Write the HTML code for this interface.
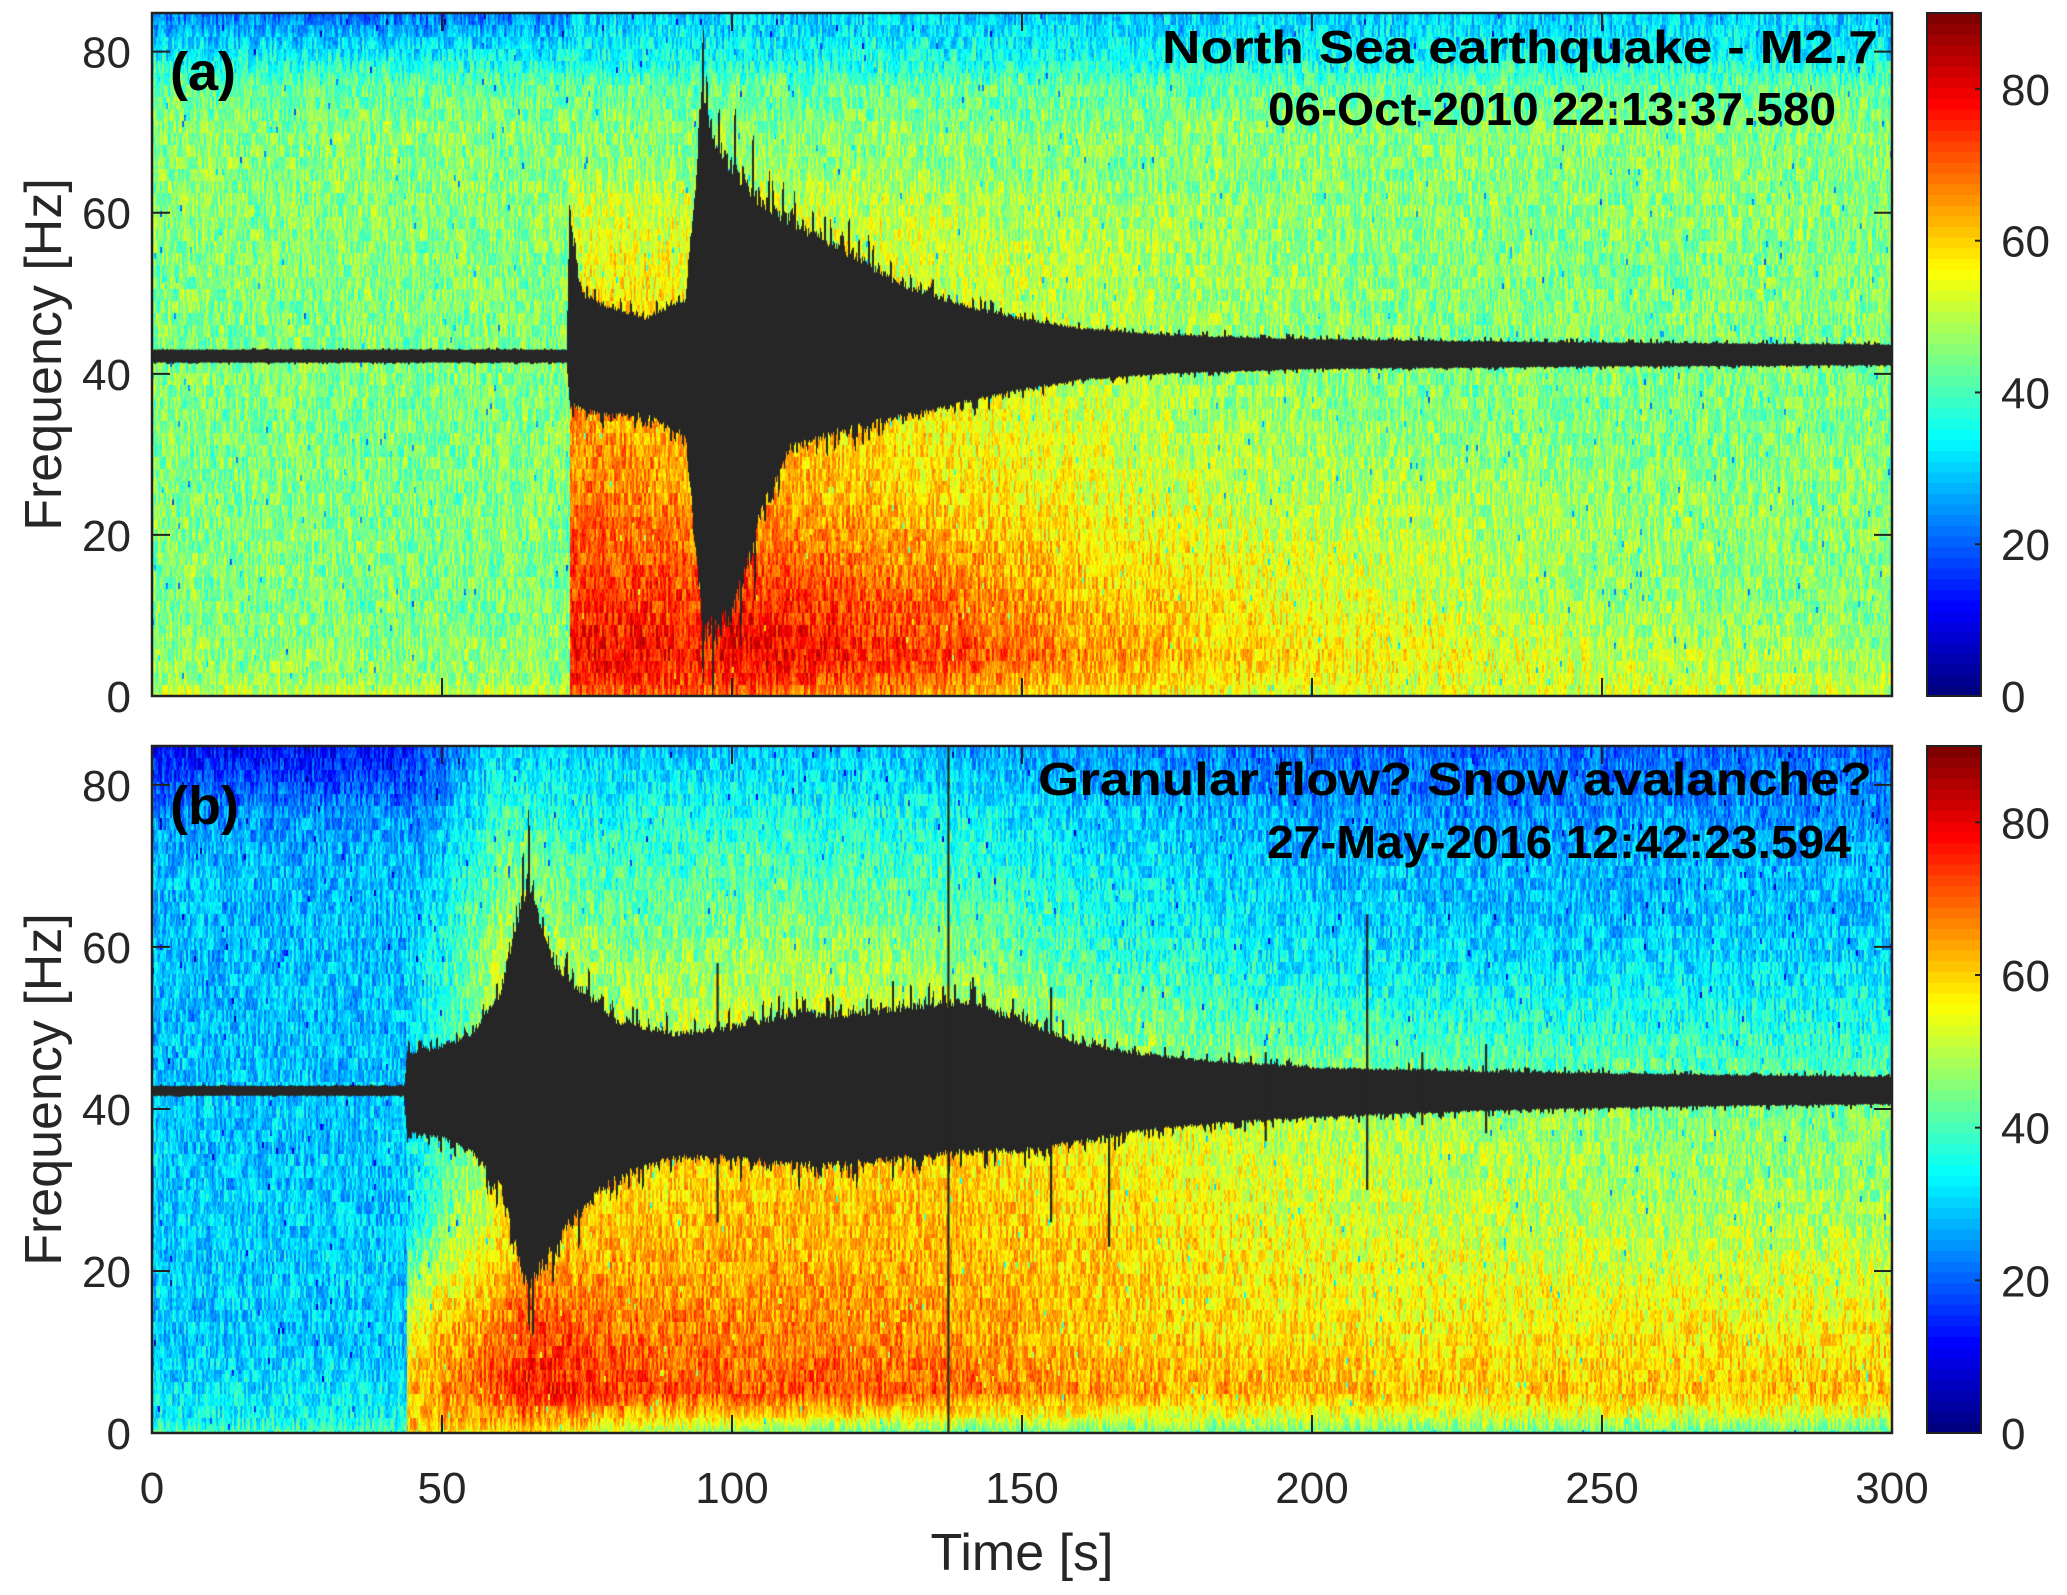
<!DOCTYPE html>
<html><head><meta charset="utf-8">
<style>
html,body{margin:0;padding:0;background:#fff;}
#wrap{position:relative;width:2067px;height:1595px;overflow:hidden;font-family:"Liberation Sans",Arial,sans-serif;}
canvas{position:absolute;}
svg{position:absolute;left:0;top:0;}
</style></head>
<body>
<div id="wrap">
<canvas id="cA" width="1740" height="683" style="left:152px;top:13px"></canvas>
<canvas id="cB" width="1740" height="687" style="left:152px;top:746px"></canvas>
<svg id="ov" width="2067" height="1595"></svg>
</div>
<script>
// ---------- data ----------
const xTicks = [0, 50, 100, 150, 200, 250, 300];
const yTicks = [0, 20, 40, 60, 80];
const cTicks = [0, 20, 40, 60, 80];

// background level vs frequency
const bgFreq = [0, 2, 10, 40, 70, 76, 80, 84.8];
const bgLevelA = [52, 47, 45, 45, 46, 42, 33, 22];
const bgLevelB = [40, 34, 30, 29, 28, 25, 19, 12];

// panel a event levels
const evTimeA = [72, 80, 90, 95, 100, 110, 120, 140, 160, 180, 200, 230, 260, 300];
const botA  = [70, 70, 70, 68, 70, 68, 66, 62, 58, 55, 53, 52, 52, 52];
const lowA  = [78, 78, 77, 76, 80, 78, 76, 72, 66, 62, 58, 54, 50, 48];
const midA  = [68, 67, 66, 60, 62, 63, 62, 58, 55, 52, 50, 48, 47, 46];
const highA = [52, 52, 52, 52, 52, 52, 52, 50, 49, 48, 47, 46, 46, 46];
const topA  = [30, 30, 30, 30, 30, 30, 30, 30, 30, 30, 30, 30, 30, 30];

// panel b event levels
const evTimeB = [44, 50, 60, 65, 70, 80, 100, 120, 140, 160, 180, 200, 230, 260, 300];
const botB  = [60, 58, 58, 60, 56, 50, 46, 44, 43, 43, 43, 43, 43, 43, 43];
const lowB  = [60, 66, 72, 77, 76, 73, 71, 71, 69, 65, 63, 62, 61, 61, 61];
const midB  = [34, 44, 56, 60, 60, 61, 62, 62, 62, 60, 57, 54, 52, 50, 49];
const highB = [30, 36, 50, 51, 49, 45, 47, 47, 45, 39, 35, 32, 30, 30, 30];
const topB  = [16, 20, 30, 30, 29, 29, 29, 29, 27, 24, 23, 21, 21, 21, 21];

// waveform envelopes (in Hz units on the plot)
const trTimeA = [0, 71.5, 72, 74, 78, 85, 92, 95, 97, 100, 105, 110, 120, 130, 140, 150, 160, 175, 200, 250, 300];
const trTopA  = [43.2, 43.2, 64, 52, 50, 48, 51, 82, 76, 71, 66, 63, 58, 53, 50, 48, 46.5, 45.5, 44.8, 44.3, 44];
const trBotA  = [41.2, 41.2, 35, 34, 33, 33, 30, 0, 0, 2, 18, 28, 31, 33, 35, 37, 38.5, 39.5, 40.2, 40.6, 40.8];

const trTimeB = [0, 43.5, 44, 50, 55, 60, 63, 65, 67, 70, 75, 80, 90, 100, 110, 120, 130, 140, 150, 160, 170, 180, 200, 230, 260, 300];
const trTopB  = [43, 43, 48, 49, 51, 57, 69, 75, 67, 61, 57, 53, 51, 52, 54, 54, 55, 56, 53, 49.5, 48, 47, 45.8, 45.2, 44.8, 44.4];
const trBotB  = [41.5, 41.5, 36, 35, 33, 28, 18, 11, 15, 20, 25, 29, 32, 32, 31, 31, 32, 33, 33, 34.5, 36, 37, 38.2, 39.2, 39.8, 40.2];
const spikeT   = [97.5, 137.3, 155, 165, 192, 209.5, 219, 230];
const spikeTop = [58, 84.8, 55, 47, 47, 64, 47, 48];
const spikeBot = [26, 0, 26, 23, 36, 30, 38, 37];

// ---------- helpers ----------
const TMAX = 300, FMAX = 84.8, CMAX = 90, FC = 42.2;
function interp(xs, ys, x){
  if (x <= xs[0]) return ys[0];
  for (let i = 1; i < xs.length; i++) if (x <= xs[i]) { const u = (x - xs[i-1]) / (xs[i] - xs[i-1]); return ys[i-1] + u * (ys[i] - ys[i-1]); }
  return ys[ys.length-1];
}
function jet(v){
  let x = Math.max(0, Math.min(1, v / CMAX)); x = Math.floor(x * 63.999) / 63;
  const c = a => Math.round(255 * Math.max(0, Math.min(1, a)));
  return [c(1.5 - Math.abs(4*x - 3)), c(1.5 - Math.abs(4*x - 2)), c(1.5 - Math.abs(4*x - 1))];
}
function hash(a, b, s){ let h = (a * 374761393 + b * 668265263 + s * 982451653) | 0; h = Math.imul(h ^ (h >>> 13), 1274126177); h ^= h >>> 16; return (h >>> 0) / 4294967296; }
function eventLevel(t, f, times, bot, low, mid, high, top){
  if (t < times[0]) return -1;
  const B = interp(times, bot, t), L = interp(times, low, t), M = interp(times, mid, t), H = interp(times, high, t), T = interp(times, top, t);
  const fs = [0, 2, 5, 12, 25, 38, 60, 74, 84.8];
  const vs = [B, (B + L) / 2, L, L - 4, M, M - 4, H, (H + T) / 2, T];
  return interp(fs, vs, f);
}
function drawPanel(id, bgLevel, evTimes, bot, low, mid, high, top, trT, trTop, trBot, spikes, seed){
  const cv = document.getElementById(id), ctx = cv.getContext('2d');
  const W = cv.width, H = cv.height;
  const img = ctx.createImageData(W, H);
  for (let x = 0; x < W; x++){
    const t = (x + 0.5) / W * TMAX;
    for (let y = 0; y < H; y++){
      const f = (H - y - 0.5) / H * FMAX;
      let v = interp(bgFreq, bgLevel, f);
      const e = eventLevel(t, f, evTimes, bot, low, mid, high, top);
      if (e > v) v = e;
      v += (hash(x >> 1, Math.floor(y / 12), seed) - 0.5) * 14 + (hash(x, y >> 2, seed + 7) - 0.5) * 8;
      if (hash(x >> 1, Math.floor(y / 6), seed + 3) < 0.006) v -= 18;
      const c = jet(v), k = (y * W + x) * 4;
      img.data[k] = c[0]; img.data[k+1] = c[1]; img.data[k+2] = c[2]; img.data[k+3] = 255;
    }
  }
  ctx.putImageData(img, 0, 0);
  // waveform
  const fy = f => Math.max(0, Math.min(H, H - f / FMAX * H));
  ctx.fillStyle = '#262626';
  for (let x = 0; x < W; x++){
    const t = (x + 0.5) / W * TMAX;
    const tp = interp(trT, trTop, t), bt = interp(trT, trBot, t);
    const r1 = 0.84 + 0.26 * Math.pow(hash(x >> 1, 1, seed + 11), 5) - 0.08 * hash(x, 5, seed);
    const r2 = 0.84 + 0.26 * Math.pow(hash(x >> 1, 2, seed + 13), 5) - 0.08 * hash(x, 6, seed);
    const yTop = fy(FC + (tp - FC) * r1), yBot = fy(FC - (FC - bt) * r2);
    ctx.fillRect(x, yTop, 1, yBot - yTop);
  }
  if (spikes){
    for (let i = 0; i < spikes.t.length; i++){
      const x = spikes.t[i] / TMAX * W;
      ctx.fillRect(x - 1, fy(spikes.top[i]), 2.2, fy(spikes.bot[i]) - fy(spikes.top[i]));
    }
  }
}
drawPanel('cA', bgLevelA, evTimeA, botA, lowA, midA, highA, topA, trTimeA, trTopA, trBotA, null, 1);
drawPanel('cB', bgLevelB, evTimeB, botB, lowB, midB, highB, topB, trTimeB, trTopB, trBotB, {t: spikeT, top: spikeTop, bot: spikeBot}, 2);

// ---------- axes overlay ----------
const NS = 'http://www.w3.org/2000/svg';
const ov = document.getElementById('ov');
function el(tag, attrs, parent){ const e = document.createElementNS(NS, tag); for (const k in attrs) e.setAttribute(k, attrs[k]); (parent || ov).appendChild(e); return e; }
const L = 152, R = 1892, CBL = 1927, CBR = 1981;
const panels = [{top: 13, bot: 696, name: 'a'}, {top: 746, bot: 1433, name: 'b'}];
panels.forEach((p, pi) => {
  const g = el('g', {});
  
  
  const yS = f => p.bot - f / FMAX * (p.bot - p.top);
  const xS = t => L + t / TMAX * (R - L);
  yTicks.forEach(v => {
    const y = yS(v);
    el('line', {x1: L, y1: y, x2: L + 18, y2: y, stroke: '#222', 'stroke-width': 2}, g);
    el('line', {x1: R, y1: y, x2: R - 18, y2: y, stroke: '#222', 'stroke-width': 2}, g);
    const tx = el('text', {x: 131, y: y + 16, 'text-anchor': 'end', 'font-size': 44, fill: '#262626'}, g);
    
    
    tx.textContent = v;
  });
  xTicks.forEach(v => {
    const x = xS(v);
    el('line', {x1: x, y1: p.bot, x2: x, y2: p.bot - 18, stroke: '#222', 'stroke-width': 2}, g);
    el('line', {x1: x, y1: p.top, x2: x, y2: p.top + 18, stroke: '#222', 'stroke-width': 2}, g);
    if (pi === 1){
      const tx = el('text', {x: x, y: 1503, 'text-anchor': 'middle', 'font-size': 44, fill: '#262626'}, g);
      
      
      tx.textContent = v;
    }
  });
  el('rect', {x: L, y: p.top, width: R - L, height: p.bot - p.top, fill: 'none', stroke: '#222', 'stroke-width': 2.5}, g);
  // colorbar
  const cb = el('g', {});
  
  
  const ch = (p.bot - p.top) / 64;
  for (let i = 0; i < 64; i++){
    const c = jet((i + 0.5) / 64 * CMAX);
    el('rect', {x: CBL, y: p.bot - (i + 1) * ch, width: CBR - CBL, height: ch + 0.6, fill: 'rgb(' + c.join(',') + ')'}, cb);
  }
  el('rect', {x: CBL, y: p.top, width: CBR - CBL, height: p.bot - p.top, fill: 'none', stroke: '#222', 'stroke-width': 2}, cb);
  cTicks.forEach(v => {
    const y = p.bot - v / CMAX * (p.bot - p.top);
    el('line', {x1: CBR, y1: y, x2: CBR - 6, y2: y, stroke: '#222', 'stroke-width': 2}, cb);
    const tx = el('text', {x: 2001, y: y + 16, 'font-size': 44, fill: '#262626'}, cb);
    
    
    tx.textContent = v;
  });
  // y label
  const yl = el('text', {x: 0, y: 0, 'font-size': 52, fill: '#262626', 'text-anchor': 'middle', transform: 'translate(61,' + ((p.top + p.bot) / 2) + ') rotate(-90)'}, g);
  
  
  yl.textContent = 'Frequency [Hz]';
});
function txt(s, attrs, name){
  const t = el('text', Object.assign({'font-weight': 'bold', fill: '#000', 'font-size': 46}, attrs));
  
  
  t.textContent = s; return t;
}
txt('(a)', {x: 170, y: 90, 'font-size': 54}, 'panel-a-label');
txt('North Sea earthquake - M2.7', {x: 1162, y: 63, textLength: 716, lengthAdjust: 'spacingAndGlyphs'}, 'panel-a-title');
txt('06-Oct-2010 22:13:37.580', {x: 1268, y: 125, textLength: 568, lengthAdjust: 'spacingAndGlyphs'}, 'panel-a-date');
txt('(b)', {x: 170, y: 824, 'font-size': 54}, 'panel-b-label');
txt('Granular flow? Snow avalanche?', {x: 1038, y: 795, textLength: 834, lengthAdjust: 'spacingAndGlyphs'}, 'panel-b-title');
txt('27-May-2016 12:42:23.594', {x: 1267, y: 858, textLength: 584, lengthAdjust: 'spacingAndGlyphs'}, 'panel-b-date');
const xl = el('text', {x: 1022, y: 1570, 'font-size': 52, fill: '#262626', 'text-anchor': 'middle'});


xl.textContent = 'Time [s]';
</script>
</body></html>
